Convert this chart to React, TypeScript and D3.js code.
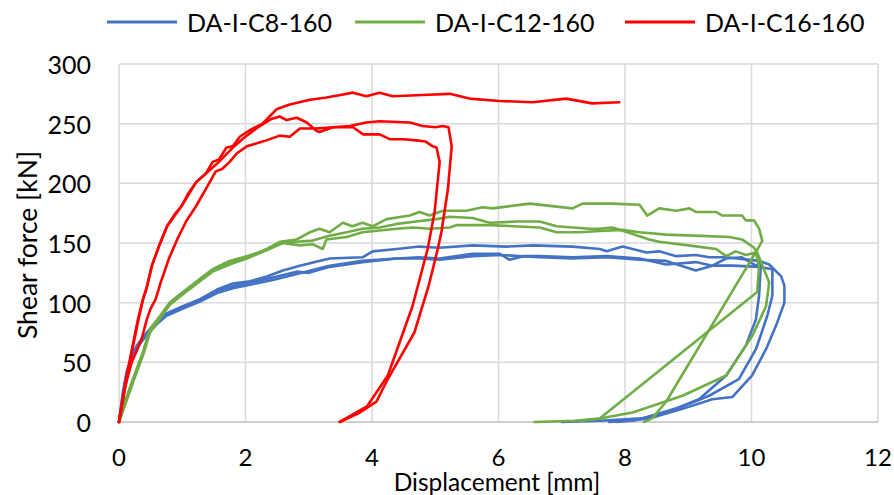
import React from "react";
import * as d3 from "d3";

type Pt = [number, number];

const seriesNames = ["DA-I-C8-160", "DA-I-C12-160", "DA-I-C16-160"];
const seriesColors = ["#4472C4", "#70AD47", "#FF0000"];
const xTicks = [0, 2, 4, 6, 8, 10, 12];
const yTicks = [0, 50, 100, 150, 200, 250, 300];

// DA-I-C8-160 (three specimens)
const c8Spec1: Pt[] = [[0,0],[0.06,25],[0.12,42],[0.2,55],[0.28,64],[0.44,75],[0.6,84],[0.75,91],[1.01,97],[1.28,103],[1.55,111],[1.8,116],[2.07,118],[2.34,122],[2.59,127],[2.86,131],[3.1,134],[3.33,137],[3.85,138],[4.01,143],[4.39,145],[4.75,147],[5.07,146],[5.59,148],[6.13,147],[6.54,148],[7.17,147],[7.6,145],[7.71,143],[7.96,147],[8.34,142],[8.54,143],[8.81,139],[9.12,140],[9.33,138],[9.6,138],[10.12,135],[10.28,132],[10.47,122],[10.52,114],[10.52,100],[10.39,81],[10.23,61],[10.01,39],[9.7,21],[9.38,19],[8.91,11],[8.38,3],[7.86,0]];
const c8Spec2: Pt[] = [[0,0],[0.06,22],[0.12,40],[0.2,53],[0.28,63],[0.44,74],[0.6,83],[0.75,90],[1.01,96],[1.28,102],[1.55,110],[1.8,114],[2.07,117],[2.43,121],[2.81,126],[3.0,125],[3.33,130],[3.85,134],[4.39,137],[4.75,138],[5.07,137],[5.59,141],[6.02,141],[6.17,136],[6.4,139],[6.65,139],[7.17,138],[7.71,139],[8.23,137],[8.65,132],[9.12,134],[9.38,131],[9.7,131],[10.12,130],[10.33,128],[10.33,106],[10.25,89],[10.07,61],[9.8,36],[9.33,22],[8.91,13],[8.27,3],[7.6,1],[7.0,0]];
const c8Spec3: Pt[] = [[0,0],[0.06,20],[0.12,38],[0.2,51],[0.28,62],[0.44,73],[0.6,82],[0.75,89],[1.01,95],[1.28,101],[1.55,108],[1.8,112],[2.07,115],[2.43,119],[2.81,124],[3.33,131],[3.85,135],[4.39,137],[4.75,137],[5.07,136],[5.59,139],[6.02,140],[6.65,138],[7.17,137],[7.71,138],[8.23,136],[8.65,135],[9.12,127],[9.38,131],[9.6,137],[9.85,138],[10.07,131],[10.15,134],[10.12,106],[10.07,86],[9.91,64],[9.6,39],[9.17,19],[8.65,8],[8.12,1],[7.75,0]];

// DA-I-C12-160 (three specimens)
const c12Spec1: Pt[] = [[0,0],[0.1,18],[0.22,36],[0.38,59],[0.49,78],[0.65,89],[0.8,100],[1.01,109],[1.28,120],[1.48,128],[1.75,135],[2.02,139],[2.27,143],[2.54,151],[2.81,153],[3.02,159],[3.17,162],[3.33,159],[3.54,167],[3.69,164],[3.85,167],[4.01,164],[4.23,170],[4.6,173],[4.75,176],[4.91,173],[5.12,177],[5.49,177],[5.75,180],[5.91,179],[6.49,183],[7.17,179],[7.33,183],[7.8,183],[8.23,182],[8.35,173],[8.54,179],[8.81,177],[9.02,179],[9.12,176],[9.44,176],[9.54,173],[9.85,173],[9.91,169],[10.04,169],[10.12,162],[10.17,152],[10.12,147],[8.65,17],[8.43,3],[8.3,0]];
const c12Spec2: Pt[] = [[0,0],[0.1,16],[0.22,34],[0.38,57],[0.49,76],[0.65,88],[0.8,99],[1.01,108],[1.28,119],[1.48,127],[1.8,134],[2.02,138],[2.34,145],[2.54,150],[2.8,151],[3.06,152],[3.33,156],[3.6,159],[3.85,162],[4.12,163],[4.39,166],[4.7,168],[5.02,170],[5.23,172],[5.59,171],[5.86,167],[6.3,168],[6.65,168],[6.92,164],[7.44,162],[7.6,162],[7.8,163],[8.1,158],[8.38,153],[8.54,151],[9.0,148],[9.44,145],[9.6,139],[9.75,143],[9.91,140],[10.07,142],[10.12,130],[10.09,109],[7.6,3],[7.2,1],[6.57,0]];
const c12Spec3: Pt[] = [[0,0],[0.1,15],[0.22,33],[0.38,56],[0.49,75],[0.65,87],[0.8,98],[1.01,107],[1.28,118],[1.48,126],[1.8,133],[2.02,137],[2.34,144],[2.59,150],[2.86,148],[3.06,149],[3.22,145],[3.28,153],[3.6,155],[3.85,159],[4.39,162],[4.65,163],[4.91,162],[5.23,163],[5.34,165],[5.86,165],[6.65,163],[6.92,159],[7.28,159],[7.6,160],[7.96,161],[8.23,159],[8.65,157],[9.2,156],[9.65,155],[9.85,153],[10.04,146],[10.09,142],[10.28,117],[10.23,97],[10.01,72],[9.6,39],[8.91,22],[8.12,8],[7.6,3],[7.3,1]];

// DA-I-C16-160 (three specimens)
const c16Spec1: Pt[] = [[0,0],[0.1,30],[0.2,58],[0.3,84],[0.38,103],[0.43,111],[0.52,131],[0.63,147],[0.76,164],[0.88,174],[0.99,181],[1.1,192],[1.22,201],[1.37,208],[1.48,218],[1.58,220],[1.7,230],[1.8,231],[1.91,239],[2.02,243],[2.12,246],[2.27,250],[2.38,256],[2.49,262],[2.7,266],[3.02,270],[3.28,272],[3.5,274],[3.7,276],[3.91,273],[4.12,276],[4.33,273],[4.8,274],[5.23,275],[5.54,271],[6.02,269],[6.54,268],[7.07,271],[7.48,267],[7.91,268]];
const c16Spec2: Pt[] = [[0,0],[0.1,33],[0.2,60],[0.3,86],[0.38,103],[0.45,115],[0.52,131],[0.63,147],[0.76,164],[0.99,181],[1.22,201],[1.37,208],[1.58,218],[1.8,230],[2.02,240],[2.2,247],[2.41,254],[2.54,256],[2.65,253],[2.81,255],[2.97,251],[3.12,244],[3.17,243],[3.38,247],[3.65,248],[3.91,251],[4.12,252],[4.6,251],[4.8,248],[5.0,247],[5.12,248],[5.21,247],[5.26,231],[5.2,195],[5.1,160],[5.04,145],[4.9,115],[4.67,75],[4.25,36],[4.07,17],[3.81,8],[3.49,0]];
const c16Spec3: Pt[] = [[0,0],[0.1,30],[0.2,50],[0.3,62],[0.36,70],[0.44,86],[0.5,95],[0.58,103],[0.66,117],[0.79,137],[0.92,153],[1.06,168],[1.22,181],[1.37,195],[1.53,210],[1.63,212],[1.75,218],[1.86,225],[2.02,231],[2.33,236],[2.54,240],[2.7,239],[2.86,246],[3.1,246],[3.4,247],[3.7,247],[3.86,241],[4.12,241],[4.28,237],[4.5,237],[4.7,236],[4.85,235],[4.96,231],[5.02,230],[5.07,218],[4.99,176],[4.88,145],[4.64,97],[4.25,39],[3.92,13],[3.49,0]];

const seriesData: Pt[][][] = [
  [c8Spec1, c8Spec2, c8Spec3],
  [c12Spec1, c12Spec2, c12Spec3],
  [c16Spec1, c16Spec2, c16Spec3],
];

const W = 894;
const H = 495;
const FONT = "Lato, 'Open Sans', sans-serif";

export default function App() {
  const x = d3.scaleLinear().domain([0, 12]).range([119, 878]);
  const y = d3.scaleLinear().domain([0, 300]).range([422, 64]);
  const line = d3
    .line<Pt>()
    .x((d) => x(d[0]))
    .y((d) => y(d[1]));

  const legendX = [107, 355, 625];

  return (
    <svg
      width={W}
      height={H}
      style={{ position: "absolute", left: 0, top: 0, background: "#fff" }}
      fontFamily={FONT}
    >
      <rect x={0} y={0} width={W} height={H} fill="#fff" />
      {/* grid */}
      {xTicks.map((t) => (
        <line key={"gx" + t} x1={x(t)} x2={x(t)} y1={y(0)} y2={y(300)} stroke="#d9d9d9" strokeWidth={1.5} />
      ))}
      {yTicks.map((t) => (
        <line key={"gy" + t} x1={x(0)} x2={x(12)} y1={y(t)} y2={y(t)} stroke={t === 0 ? "#bfbfbf" : "#d9d9d9"} strokeWidth={1.5} />
      ))}
      {/* series */}
      {seriesData.map((specs, si) =>
        specs.map((pts, k) => (
          <path
            key={si + "-" + k}
            d={line(pts) || ""}
            fill="none"
            stroke={seriesColors[si]}
            strokeWidth={2.6}
            strokeLinejoin="round"
            strokeLinecap="round"
          />
        ))
      )}
      {/* tick labels */}
      {yTicks.map((t) => (
        <text key={"ty" + t} x={91} y={y(t)} textAnchor="end" dominantBaseline="central" fontSize={25} fill="#000">
          {t}
        </text>
      ))}
      {xTicks.map((t) => (
        <text key={"tx" + t} x={x(t)} y={456} textAnchor="middle" dominantBaseline="central" fontSize={24} fill="#000">
          {t}
        </text>
      ))}
      {/* axis titles */}
      <text x={497} y={491} textAnchor="middle" fontSize={24.5} fill="#000">
        Displacement [mm]
      </text>
      <text
        transform="translate(27,245) rotate(-90)"
        textAnchor="middle"
        dominantBaseline="central"
        fontSize={26.5}
        fill="#000"
      >
        Shear force [kN]
      </text>
      {/* legend */}
      {seriesNames.map((n, i) => (
        <g key={n}>
          <line x1={legendX[i]} x2={legendX[i] + 70} y1={22} y2={22} stroke={seriesColors[i]} strokeWidth={3} />
          <text x={legendX[i] + 80} y={22} dominantBaseline="central" fontSize={25} fill="#000">
            {n}
          </text>
        </g>
      ))}
    </svg>
  );
}
